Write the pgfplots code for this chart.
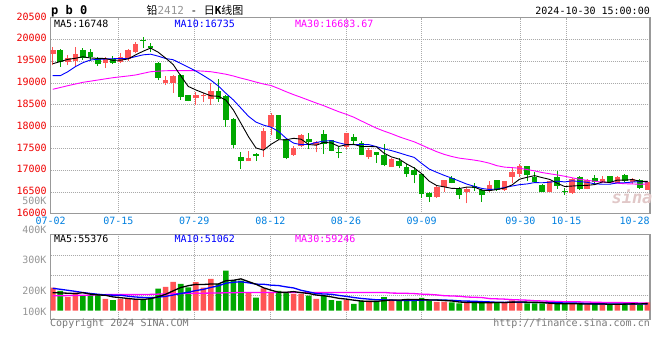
\documentclass[border=0pt]{standalone}
\usepackage{fontspec}
\usepackage{pgfplots}
\usepackage{pgfplotstable}
\pgfplotsset{compat=1.18}
\setmainfont{DejaVu Sans Mono}
\newfontfamily\mono{DejaVu Sans Mono}
\newfontfamily\cjk{Noto Sans CJK SC}
\definecolor{upred}{RGB}{255,85,85}
\definecolor{dngreen}{RGB}{0,168,0}
\definecolor{pricered}{RGB}{240,0,0}
\definecolor{dateblue}{RGB}{0,128,224}
\definecolor{lblgray}{RGB}{150,150,150}
\definecolor{bordergray}{RGB}{153,153,153}
\definecolor{gridgray}{RGB}{170,170,170}
\definecolor{ma10blue}{RGB}{0,0,255}
\definecolor{ma30mag}{RGB}{255,0,255}
\definecolor{wmark}{RGB}{225,200,200}

% up (red) candles: x open high low close volume(K)
\pgfplotstableread{
x o h l c v
0 19660 19820 19400 19740 175
2 19480 19630 19410 19560 106
3 19510 19830 19390 19660 137
7 19450 19600 19350 19540 89
9 19470 19680 19450 19590 89
10 19560 19770 19500 19740 89
11 19700 19930 19680 19890 89
15 19000 19150 18950 19060 182
16 19000 19180 18770 19150 220
19 18660 18790 18490 18720 218
20 18690 18780 18560 18720 175
21 18630 18990 18490 18810 241
26 17200 17430 17200 17280 139
28 17490 17970 17310 17900 169
29 17990 18310 17810 18250 144
32 17350 17560 17330 17510 127
33 17565 17830 17520 17795 127
35 17580 17680 17410 17640 89
39 17540 17860 17480 17840 81
42 17300 17500 17255 17460 74
45 17080 17290 17070 17250 81
51 16380 16660 16370 16600 68
52 16610 16780 16510 16760 68
55 16510 16610 16240 16560 63
58 16530 16750 16510 16660 59
60 16550 16750 16530 16735 63
61 16850 17080 16710 16940 78
62 16915 17135 16850 17080 68
66 16510 16760 16500 16737 51
69 16470 16820 16460 16800 55
71 16570 16790 16560 16760 48
73 16740 16870 16700 16795 48
75 16713 16870 16700 16837 51
77 16737 16820 16680 16798 63
79 16546 16750 16546 16713 63
}\up

% down (green) candles
\pgfplotstableread{
x o h l c v
1 19740 19780 19370 19470 150
4 19750 19790 19530 19570 119
5 19690 19770 19500 19600 119
6 19560 19600 19390 19430 119
8 19540 19620 19440 19450 81
12 19985 20060 19800 19965 81
13 19830 19910 19700 19810 106
14 19460 19490 19060 19120 167
17 19180 19200 18620 18680 203
18 18720 18730 18580 18590 177
22 18810 19080 18560 18630 203
23 18700 18730 18000 18150 304
24 18160 18200 17500 17580 233
25 17290 17410 17030 17200 228
27 17370 17390 17210 17335 99
30 18250 18260 17700 17720 150
31 17700 17720 17250 17275 137
34 17700 17860 17490 17640 114
36 17820 17910 17370 17600 114
37 17680 17700 17430 17450 81
38 17420 17530 17270 17390 74
40 17760 17820 17610 17680 51
41 17620 17660 17340 17350 76
43 17400 17410 17170 17350 74
44 17340 17600 17090 17110 104
46 17210 17290 17040 17100 74
47 17065 17140 16850 16910 89
48 17000 17080 16700 16890 76
49 16900 16920 16360 16450 97
50 16480 16510 16280 16390 74
53 16810 16870 16700 16715 63
54 16560 16610 16330 16430 55
56 16620 16700 16530 16590 63
57 16530 16580 16280 16420 63
59 16760 16775 16530 16550 61
63 17095 17100 16750 16880 55
64 16830 16960 16720 16740 55
65 16660 16680 16500 16510 55
67 16830 16980 16570 16645 51
68 16525 16585 16430 16495 51
70 16837 16870 16550 16562 51
72 16814 16890 16660 16737 51
74 16850 16870 16730 16737 48
76 16890 16920 16720 16760 51
78 16760 16800 16580 16600 43
}\dn

% moving averages: price MA5 MA10 MA30, volume MA5 MA10 MA30 (K)
\pgfplotstableread{
x m5 m10 m30 v5 v10 v30
0 19440 19166 18854 137 170 114
1 19490 19166 18895 135 163 114
2 19540 19257 18937 133 155 115
3 19565 19372 18975 130 147 116
4 19600 19464 19014 137 138 117
5 19572 19526 19040 126 131 119
6 19564 19542 19067 120 125 121
7 19560 19548 19094 117 120 122
8 19518 19555 19120 105 118 122
9 19522 19561 19140 99 118 122
10 19550 19561 19160 93 110 122
11 19642 19603 19182 87 104 122
12 19727 19644 19220 86 101 123
13 19799 19659 19257 91 98 124
14 19705 19614 19270 106 103 126
15 19569 19560 19280 125 109 128
16 19421 19532 19282 151 119 129
17 19164 19446 19282 176 131 130
18 18920 19360 19282 190 140 131
19 18840 19273 19280 200 153 132
20 18772 19171 19270 199 162 133
21 18704 19063 19257 203 177 134
22 18694 18929 19230 203 189 135
23 18606 18763 19200 228 209 136
24 18378 18609 19159 231 216 137
25 18074 18423 19110 242 220 138
26 17768 18236 19067 221 212 139
27 17509 18102 19020 201 202 139
28 17459 18033 18975 174 201 139
29 17593 17986 18940 156 194 139
30 17697 17886 18872 140 191 139
31 17696 17732 18799 140 181 139
32 17731 17620 18731 145 173 139
33 17710 17585 18669 137 155 139
34 17588 17591 18604 131 143 139
35 17572 17635 18539 119 130 139
36 17637 17667 18478 114 127 139
37 17625 17678 18408 105 125 139
38 17544 17627 18340 94 116 139
39 17584 17586 18281 88 109 139
40 17592 17582 18213 80 100 139
41 17542 17590 18128 73 93 139
42 17544 17585 18045 71 88 139
43 17536 17540 17963 71 83 139
44 17390 17487 17896 76 82 139
45 17304 17448 17835 82 81 134
46 17254 17398 17767 81 77 133
47 17144 17344 17708 84 78 132
48 17052 17294 17651 85 78 130
49 16920 17155 17576 83 80 126
50 16748 17026 17498 82 82 124
51 16648 16951 17424 81 81 120
52 16618 16881 17362 77 81 114
53 16583 16818 17314 74 79 112
54 16579 16750 17276 66 75 110
55 16613 16681 17254 63 73 104
56 16611 16630 17231 62 72 102
57 16543 16581 17201 61 69 100
58 16532 16558 17160 61 67 92
59 16556 16568 17103 62 64 90
60 16591 16602 17070 62 63 88
61 16661 16636 17059 65 64 84
62 16793 16668 17045 66 64 82
63 16837 16685 17014 65 63 80
64 16875 16716 16984 64 63 76
65 16830 16711 16946 62 62 74
66 16789 16725 16918 57 61 72
67 16702 16748 16891 53 60 70
68 16625 16731 16861 53 59 68
69 16637 16756 16826 53 58 68
70 16648 16739 16789 52 57 67
71 16652 16721 16769 51 54 66
72 16671 16687 16745 51 52 64
73 16731 16678 16727 51 52 63
74 16718 16678 16714 49 51 62
75 16773 16711 16701 49 51 62
76 16773 16713 16689 50 51 61
77 16785 16728 16685 52 52 60
78 16746 16739 16676 51 51 59
79 16742 16730 16685 54 52 59
}\ma

\pgfplotsset{
  chartbase/.style={
    scale only axis, anchor=south west,
    width=599.3pt, xmin=-0.27, xmax=79.33,
    axis line style={bordergray, line width=1.2pt},
    grid style={gridgray, line width=0.8pt, dash pattern=on 1pt off 1pt},
    xmajorgrids, ymajorgrids,
    major tick length=0pt,
    scaled x ticks=false, scaled y ticks=false,
    xtick={8.71,18.8,28.9,38.95,49,62.12,68.23},
    tick label style={font=\mono\fontsize{10}{12}\selectfont},
  },
}

\begin{document}
\begin{tikzpicture}[x=1pt,y=1pt]
\path[use as bounding box, fill=white] (0,0) rectangle (660,360);

% ---------- price panel ----------
\begin{axis}[chartbase, at={(50.7pt,146.2pt)}, height=196.3pt,
  ymin=16000, ymax=20500,
  ytick={16000,16500,17000,17500,18000,18500,19000,19500,20000,20500},
  yticklabels={16000,16500,17000,17500,18000,18500,19000,19500,20000,20500},
  yticklabel style={text=pricered, yshift=1pt, xshift=-0.5pt},
  xticklabels={07-15,07-29,08-12,08-26,09-09,09-30,10-15},
  xticklabel style={text=dateblue},
  extra x ticks={-0.27,77.29},
  extra x tick labels={07-02,10-28},
  extra x tick style={grid=none, xticklabel style={text=dateblue}},
]
% wicks
\addplot[draw=none, forget plot, error bars/.cd, y dir=plus, y explicit, error mark=none,
  error bar style={draw=upred, line width=1pt}]
  table[x=x, y=l, y error plus expr=\thisrow{h}-\thisrow{l}] {\up};
\addplot[draw=none, forget plot, error bars/.cd, y dir=plus, y explicit, error mark=none,
  error bar style={draw=dngreen, line width=1pt}]
  table[x=x, y=l, y error plus expr=\thisrow{h}-\thisrow{l}] {\dn};
% bodies
\addplot[draw=none, forget plot, error bars/.cd, y dir=plus, y explicit, error mark=none,
  error bar style={draw=upred, line width=5.6pt}]
  table[x=x, y=o, y error plus expr=\thisrow{c}-\thisrow{o}+8] {\up};
\addplot[draw=none, forget plot, error bars/.cd, y dir=plus, y explicit, error mark=none,
  error bar style={draw=dngreen, line width=5.6pt}]
  table[x=x, y=c, y error plus expr=\thisrow{o}-\thisrow{c}+8] {\dn};
% moving averages
\addplot[ma30mag, line width=0.9pt, mark=none] table[x=x, y=m30] {\ma};
\addplot[ma10blue, line width=0.9pt, mark=none] table[x=x, y=m10] {\ma};
\addplot[black, line width=0.9pt, mark=none] table[x=x, y=m5] {\ma};
\end{axis}

% ---------- volume panel ----------
\begin{axis}[chartbase, at={(50.7pt,40.7pt)}, height=85pt,
  ymin=-65.4, ymax=580.6,
  ytick={117,269,421}, yticklabels={,,},
  xticklabels={,,,,,,},
]
\addplot[ybar, bar width=5.6pt, bar shift=0pt, fill=upred, draw=none] table[x=x, y=v] {\up};
\addplot[ybar, bar width=5.6pt, bar shift=0pt, fill=dngreen, draw=none] table[x=x, y=v] {\dn};
\addplot[ma30mag, line width=1.3pt, mark=none] table[x=x, y=v30] {\ma};
\addplot[ma10blue, line width=1.3pt, mark=none] table[x=x, y=v10] {\ma};
\addplot[black, line width=1.3pt, mark=none] table[x=x, y=v5] {\ma};
\end{axis}

% ---------- texts ----------
\begin{scope}[every node/.style={inner sep=0pt, font=\mono\fontsize{10}{12}\selectfont}]
\node[text=wmark, font=\bfseries\itshape\fontsize{17}{17}\selectfont] at (632,163) {sina};
\node[anchor=west, font=\mono\bfseries\fontsize{12}{14}\selectfont] at (51,349) {p b 0};
\node at (195,349.5) {\fontsize{11}{13}\selectfont{\cjk 铅}{\color{lblgray}2412} - {\cjk 日}\textbf{K}{\cjk 线图}};
\node[anchor=east] at (650,349) {2024-10-30 15:00:00};
\node[anchor=west] at (54,336) {MA5:16748};
\node[anchor=west, text=ma10blue] at (174.5,336) {MA10:16735};
\node[anchor=west, text=ma30mag] at (295,336) {MA30:16683.67};
\node[anchor=east, text=lblgray] at (46.7,159.5) {500K};
\node[anchor=east, text=lblgray] at (46.7,130) {400K};
\node[anchor=east, text=lblgray] at (46.7,100) {300K};
\node[anchor=east, text=lblgray] at (46.7,69.3) {200K};
\node[anchor=east, text=lblgray] at (46.7,48.3) {100K};
\node[anchor=west] at (54,121) {MA5:55376};
\node[anchor=west, text=ma10blue] at (174.5,121) {MA10:51062};
\node[anchor=west, text=ma30mag] at (295,121) {MA30:59246};
\node[anchor=west, text=lblgray!80!black] at (50,36) {Copyright 2024 SINA.COM};
\node[anchor=east, text=lblgray!80!black] at (650,36) {http://finance.sina.com.cn};
\end{scope}
\end{tikzpicture}
\end{document}
